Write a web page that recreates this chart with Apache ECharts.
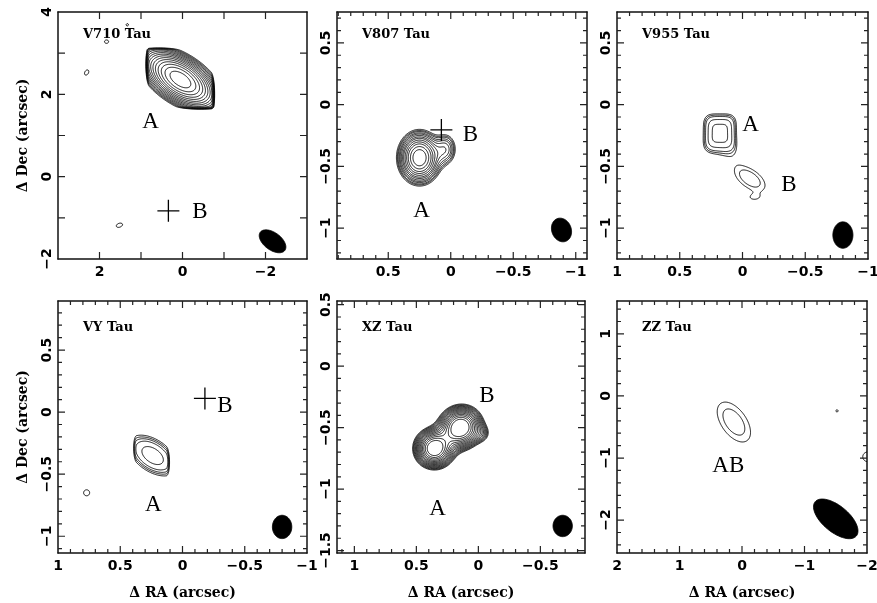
<!DOCTYPE html>
<html><head><meta charset="utf-8">
<script src="https://cdn.jsdelivr.net/npm/echarts@6/dist/echarts.min.js"></script>
<style>html,body{margin:0;padding:0;background:#fff}#c{width:877px;height:603px}</style>
</head><body><div id="c"></div>
<script>
// ---------------- data ----------------
const starNames = ['V710 Tau', 'V807 Tau', 'V955 Tau', 'VY Tau', 'XZ Tau', 'ZZ Tau'];
const raMin  = [-3, -1.09, -1, -1, -0.86, -2];
const raMax  = [3, 0.91, 1, 1, 1.14, 2];
const decMin = [-2, -1.25, -1.25, -1.135, -1.52, -2.53];
const decMax = [4, 0.75, 0.75, 0.895, 0.53, 1.53];
const raTickLabels  = [[2, 0, -2], [0.5, 0, -0.5, -1], [1, 0.5, 0, -0.5, -1], [1, 0.5, 0, -0.5, -1], [1, 0.5, 0, -0.5], [2, 1, 0, -1, -2]];
const decTickLabels = [[4, 2, 0, -2], [0.5, 0, -0.5, -1], [0.5, 0, -0.5, -1], [0.5, 0, -0.5, -1], [0.5, 0, -0.5, -1, -1.5], [1, 0, -1, -2]];
const majorStep = [1, 0.5, 0.5, 0.5, 0.5, 1];
const minorStep = [0, 0.1, 0.1, 0.1, 0.1, 0.2];

// emission components: [dRA, dDec, peak, sigma major, sigma minor, PA(deg), shape exponent, clean box index]
const v710Components = [
  [0.05, 2.36, 1.0, 0.56, 0.29, -34, 2, 0],
  [2.31, 2.53, 0.115, 0.13, 0.085, 60, 2, -1],
  [1.83, 3.28, 0.115, 0.095, 0.08, 0, 2, -1],
  [1.33, 3.69, 0.112, 0.06, 0.06, 0, 2, -1],
  [1.52, -1.18, 0.115, 0.15, 0.09, 20, 2, -1]
];
const v807Components = [
  [0.25, -0.43, 1.0, 0.107, 0.086, 90, 2, -1],
  [0.04, -0.36, 0.25, 0.08, 0.055, 90, 2, -1]
];
const v955Components = [
  [0.18, -0.23, 1.0, 0.1, 0.085, 90, 4, -1],
  [-0.06, -0.6, 0.4, 0.18, 0.095, -35, 2, -1],
  [-0.08, -0.76, 0.16, 0.03, 0.06, 90, 2, -1]
];
const vyComponents = [
  [0.24, -0.35, 1.0, 0.13, 0.075, -35, 2, 0],
  [0.77, -0.65, 0.3, 0.035, 0.035, 0, 2, -1]
];
const xzComponents = [
  [0.355, -0.67, 1.0, 0.085, 0.085, 0, 2, -1],
  [0.145, -0.5, 1.05, 0.095, 0.09, 40, 2, -1],
  [-0.03, -0.55, 0.12, 0.05, 0.05, 0, 2, -1]
];
const zzComponents = [
  [0.13, -0.42, 1.0, 0.22, 0.12, -55, 2, -1],
  [-1.52, -0.24, 0.3, 0.03, 0.03, 0, 2, -1],
  [-2.01, -0.98, 0.4, 0.08, 0.08, 0, 2, -1]
];
// clean boxes: [RA min, RA max, Dec min, Dec max]
const v710Boxes = [[-0.84, 0.95, 1.56, 3.22]];
const vyBoxes = [[0.08, 0.42, -0.62, -0.08]];

const v710Levels = [0.1, 0.117, 0.136, 0.159, 0.186, 0.217, 0.254, 0.296, 0.346, 0.404, 0.472, 0.551, 0.644, 0.752, 0.878];
const v807Levels = [0.1, 0.12, 0.14, 0.17, 0.2, 0.24, 0.29, 0.34, 0.41, 0.49, 0.58, 0.7, 0.83];
const v955Levels = [0.3, 0.35, 0.41, 0.55, 0.78];
const vyLevels   = [0.236, 0.3, 0.375, 0.487, 0.755];
const xzLevels   = [0.12, 0.137, 0.157, 0.18, 0.206, 0.236, 0.27, 0.309, 0.354, 0.405, 0.463, 0.53, 0.607, 0.695, 0.8];
const zzLevels   = [0.25, 0.55];

// synthesized beams: [dRA, dDec, semi-major, semi-minor, PA(deg)]
const beams = [
  [-2.17, -1.57, 0.37, 0.21, -37],
  [-0.886, -1.015, 0.098, 0.078, -70],
  [-0.80, -1.056, 0.107, 0.08, 90],
  [-0.80, -0.925, 0.094, 0.078, 90],
  [-0.68, -1.30, 0.087, 0.078, 90],
  [-1.5, -1.98, 0.43, 0.21, -40]
];
const crossB = [[0.34, -0.83], [0.075, -0.205], null, [-0.18, 0.11], null, null];
const compLabels = [
  [['A', 0.77, 1.33], ['B', -0.42, -0.85]],
  [['A', 0.234, -0.86], ['B', -0.158, -0.246]],
  [['A', -0.065, -0.165], ['B', -0.37, -0.65]],
  [['A', 0.235, -0.75], ['B', -0.34, 0.05]],
  [['A', 0.33, -1.16], ['B', -0.07, -0.24]],
  [['AB', 0.22, -1.12]]
];

const panelComponents = [v710Components, v807Components, v955Components, vyComponents, xzComponents, zzComponents];
const panelBoxes = [v710Boxes, [], [], vyBoxes, [], []];
const panelLevels = [v710Levels, v807Levels, v955Levels, vyLevels, xzLevels, zzLevels];

// ---------------- layout / style ----------------
const gridLeft = [58, 337, 617, 58, 337, 617];
const gridTop = [12, 12, 12, 301, 301, 301];
const gridW = [249, 250, 251, 249, 248, 250];
const gridH = [247, 247, 247, 252, 252, 252];
const boxTaper = [0.15, 0, 0, 0.05, 0, 0];
const nameOffsetY = [23, 23, 23, 27, 27, 27];

// ---------------- contour computation ----------------
function ss(t) { t = t < 0 ? 0 : (t > 1 ? 1 : t); return t * t * (3 - 2 * t); }
function makeField(i) {
  const comps = panelComponents[i].map(c => {
    const th = c[5] * Math.PI / 180;
    return {cx: c[0], cy: c[1], amp: c[2], sa: c[3], sb: c[4], ct: Math.cos(th), st: Math.sin(th), p: c[6], box: c[7]};
  });
  const boxes = panelBoxes[i], w = boxTaper[i];
  return function (x, y) {
    let f = 0;
    for (const c of comps) {
      const du = -(x - c.cx), dv = y - c.cy;
      const a = (du * c.ct + dv * c.st) / c.sa, b = (-du * c.st + dv * c.ct) / c.sb;
      let r2;
      if (c.p === 2) r2 = a * a + b * b;
      else { const r = Math.pow(Math.pow(Math.abs(a), c.p) + Math.pow(Math.abs(b), c.p), 1 / c.p); r2 = r * r; }
      if (r2 > 60) continue;
      let v = c.amp * Math.exp(-0.5 * r2);
      if (c.box >= 0) {
        const bx = boxes[c.box];
        v *= ss((x - bx[0]) / w) * ss((bx[1] - x) / w) * ss((y - bx[2]) / w) * ss((bx[3] - y) / w);
      }
      f += v;
    }
    return f;
  };
}
const SEG = [[], [[3, 0]], [[0, 1]], [[3, 1]], [[1, 2]], [[3, 0], [1, 2]], [[0, 2]], [[3, 2]],
             [[2, 3]], [[0, 2]], [[0, 1], [2, 3]], [[1, 2]], [[1, 3]], [[0, 1]], [[0, 3]], []];
function contourSegments(i) {
  const fld = makeField(i), lv = panelLevels[i];
  const NX = 340;
  const NY = Math.round(NX * (decMax[i] - decMin[i]) / (raMax[i] - raMin[i]));
  const dx = (raMax[i] - raMin[i]) / NX, dy = (decMax[i] - decMin[i]) / NY;
  const W = NX + 1;
  const F = new Float64Array(W * (NY + 1));
  for (let j = 0; j <= NY; j++) for (let k = 0; k <= NX; k++) F[j * W + k] = fld(raMin[i] + k * dx, decMin[i] + j * dy);
  const out = [];
  for (const L of lv) {
    for (let j = 0; j < NY; j++) {
      for (let k = 0; k < NX; k++) {
        const v0 = F[j * W + k], v1 = F[j * W + k + 1], v2 = F[(j + 1) * W + k + 1], v3 = F[(j + 1) * W + k];
        const idx = (v0 > L ? 1 : 0) | (v1 > L ? 2 : 0) | (v2 > L ? 4 : 0) | (v3 > L ? 8 : 0);
        if (idx === 0 || idx === 15) continue;
        const x0 = raMin[i] + k * dx, y0 = decMin[i] + j * dy, x1 = x0 + dx, y1 = y0 + dy;
        const ep = e => {
          if (e === 0) return [x0 + dx * (L - v0) / (v1 - v0), y0];
          if (e === 1) return [x1, y0 + dy * (L - v1) / (v2 - v1)];
          if (e === 2) return [x0 + dx * (L - v3) / (v2 - v3), y1];
          return [x0, y0 + dy * (L - v0) / (v3 - v0)];
        };
        for (const s of SEG[idx]) { const a = ep(s[0]), b = ep(s[1]); out.push(a[0], a[1], b[0], b[1]); }
      }
    }
  }
  return out;
}
const contourSegs = starNames.map((_, i) => contourSegments(i));

function fmt(v) { return (v < 0 ? '\u2212' : '') + Math.abs(v); }

function renderPanel(i) {
  return function (params, api) {
    const ch = [];
    const c = (x, y) => api.coord([x, y]);
    // contours
    const s = contourSegs[i], d = [];
    for (let k = 0; k < s.length; k += 4) {
      const a = c(s[k], s[k + 1]), b = c(s[k + 2], s[k + 3]);
      d.push('M' + a[0].toFixed(2) + ' ' + a[1].toFixed(2) + 'L' + b[0].toFixed(2) + ' ' + b[1].toFixed(2));
    }
    ch.push({type: 'path', shape: {pathData: d.join('')}, style: {fill: 'none', stroke: '#000', lineWidth: 0.9}});
    // ticks on all four sides
    const t = [];
    const ms = minorStep[i] || majorStep[i];
    const xc = c((raMin[i] + raMax[i]) / 2, (decMin[i] + decMax[i]) / 2);
    const addTicks = (lo, hi, isX) => {
      for (let k = Math.ceil(lo / ms - 1e-6); k <= Math.floor(hi / ms + 1e-6); k++) {
        const v = k * ms;
        if (Math.abs(v - lo) < 1e-6 || Math.abs(v - hi) < 1e-6) continue;
        const q = v / majorStep[i];
        const len = Math.abs(q - Math.round(q)) < 1e-6 ? 7 : 4;
        if (isX) {
          const p1 = c(v, decMin[i]), p2 = c(v, decMax[i]);
          t.push('M' + p1[0] + ' ' + p1[1] + 'L' + p1[0] + ' ' + (p1[1] - len));
          t.push('M' + p2[0] + ' ' + p2[1] + 'L' + p2[0] + ' ' + (p2[1] + len));
        } else {
          const p1 = c(raMin[i], v), p2 = c(raMax[i], v);
          const s1 = p1[0] > xc[0] ? -1 : 1, s2 = -s1;
          t.push('M' + p1[0] + ' ' + p1[1] + 'L' + (p1[0] + s1 * len) + ' ' + p1[1]);
          t.push('M' + p2[0] + ' ' + p2[1] + 'L' + (p2[0] + s2 * len) + ' ' + p2[1]);
        }
      }
    };
    addTicks(raMin[i], raMax[i], true);
    addTicks(decMin[i], decMax[i], false);
    ch.push({type: 'path', shape: {pathData: t.join('')}, style: {fill: 'none', stroke: '#222', lineWidth: 1.2}});
    // beam
    const bm = beams[i], th = bm[4] * Math.PI / 180, pts = [];
    for (let k = 0; k < 72; k++) {
      const a = 2 * Math.PI * k / 72;
      const du = bm[2] * Math.cos(a), dv = bm[3] * Math.sin(a);
      const U = du * Math.cos(th) - dv * Math.sin(th), V = du * Math.sin(th) + dv * Math.cos(th);
      pts.push(c(bm[0] - U, bm[1] + V));
    }
    ch.push({type: 'polygon', shape: {points: pts}, style: {fill: '#000', stroke: '#000', lineWidth: 0.8}});
    // cross at B
    if (crossB[i]) {
      const p = c(crossB[i][0], crossB[i][1]), h = 11;
      ch.push({type: 'path', shape: {pathData: 'M' + (p[0] - h) + ' ' + p[1] + 'L' + (p[0] + h) + ' ' + p[1] + 'M' + p[0] + ' ' + (p[1] - h) + 'L' + p[0] + ' ' + (p[1] + h)},
               style: {fill: 'none', stroke: '#000', lineWidth: 1.3}});
    }
    // component labels
    for (const lb of compLabels[i]) {
      const p = c(lb[1], lb[2]);
      ch.push({type: 'text', style: {text: lb[0], x: p[0], y: p[1], fill: '#000', font: '23px "Liberation Serif"', align: 'center', verticalAlign: 'middle'}});
    }
    // star name
    const tl = c(raMax[i], decMax[i]);
    ch.push({type: 'text', style: {text: starNames[i], x: tl[0] + 25, y: tl[1] + nameOffsetY[i], fill: '#000', font: 'bold 13px "DejaVu Serif"', align: 'left', verticalAlign: 'middle'}});
    return {type: 'group', children: ch};
  };
}

const lblStyle = {fontFamily: 'DejaVu Sans', fontWeight: 'bold', fontSize: 14, color: '#000'};
const titleStyle = {fontFamily: 'DejaVu Serif', fontWeight: 'bold', fontSize: 14, color: '#000'};
const axisLine = {show: true, onZero: false, lineStyle: {color: '#111', width: 1.5}};
const option = {animation: false, backgroundColor: '#fff', grid: [], xAxis: [], yAxis: [], series: []};
for (let i = 0; i < 6; i++) {
  option.grid.push({left: gridLeft[i], top: gridTop[i], width: gridW[i], height: gridH[i], containLabel: false, outerBoundsMode: 'none', show: false});
  option.xAxis.push({type: 'value', gridIndex: i, position: 'bottom', min: raMin[i], max: raMax[i], inverse: true,
    axisLine: axisLine, axisTick: {show: false}, splitLine: {show: false},
    axisLabel: Object.assign({margin: 6, customValues: raTickLabels[i], formatter: fmt}, lblStyle),
    name: i >= 3 ? '\u0394 RA (arcsec)' : '', nameLocation: 'middle', nameGap: 33, nameTextStyle: titleStyle});
  option.xAxis.push({type: 'value', gridIndex: i, position: 'top', min: raMin[i], max: raMax[i], inverse: true,
    axisLine: axisLine, axisTick: {show: false}, splitLine: {show: false}, axisLabel: {show: false}});
  option.yAxis.push({type: 'value', gridIndex: i, position: 'left', min: decMin[i], max: decMax[i],
    axisLine: axisLine, axisTick: {show: false}, splitLine: {show: false},
    axisLabel: Object.assign({margin: 4, rotate: 90, customValues: decTickLabels[i], formatter: fmt}, lblStyle),
    name: (i === 0 || i === 3) ? '\u0394 Dec (arcsec)' : '', nameLocation: 'middle', nameRotate: 90, nameGap: 28, nameTextStyle: titleStyle});
  option.yAxis.push({type: 'value', gridIndex: i, position: 'right', min: decMin[i], max: decMax[i],
    axisLine: axisLine, axisTick: {show: false}, splitLine: {show: false}, axisLabel: {show: false}});
  option.series.push({type: 'custom', coordinateSystem: 'cartesian2d', xAxisIndex: 2 * i, yAxisIndex: 2 * i,
    data: [[0, 0]], renderItem: renderPanel(i), clip: false, silent: true});
}
const chart = echarts.init(document.getElementById('c'), null, {renderer: 'canvas'});
chart.setOption(option);
</script></body></html>
